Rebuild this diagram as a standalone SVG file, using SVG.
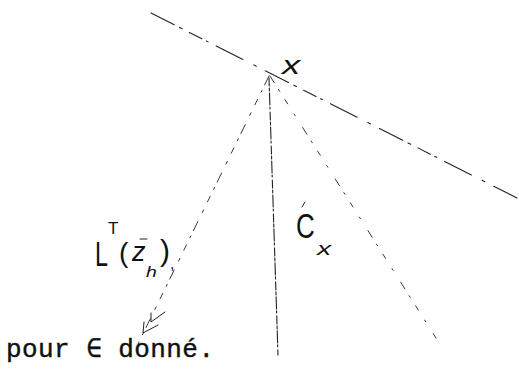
<svg xmlns="http://www.w3.org/2000/svg" width="519" height="375" viewBox="0 0 519 375">
<style>
.ln{fill:none;stroke:#222;stroke-linecap:round}
.hw{font-family:"Liberation Sans","DejaVu Sans",sans-serif;font-weight:normal;fill:#111}
.tt{font-family:"Liberation Mono","DejaVu Sans Mono",monospace;fill:#111;stroke:#111;stroke-width:0.4}
</style>
<rect width="519" height="375" fill="#fff"/>
<g id="lines">
<path class="ln" d="M151,13 L519,199" stroke-width="1.1" stroke-dasharray="26,6,3,8,14,5,2,9,30,12,3,10"/>
<path class="ln" d="M269,76 L138,344" stroke-width="0.9" stroke-dasharray="10,6,2,8,6,9,3,10" stroke="#666"/>
<path class="ln" d="M269,78 L278,355" stroke-width="1.1" stroke-dasharray="8,2,3,2,12,2,2,3"/>
<path class="ln" d="M270,76 L436,338" stroke-width="0.9" stroke-dasharray="8,8,2,10,5,12,2,14" stroke="#666"/>
<path class="ln" d="M151,313 L151,322 L165,312 M144,322 L143,333 L158,325" stroke-width="1"/>
</g>
<g id="label-x"><text class="hw" transform="translate(282,74) scale(1.4,1)" font-size="26" font-style="italic">x</text></g>
<g id="label-L">
<text class="hw" transform="translate(95,266) scale(0.65,1)" font-size="36">L</text>
<text class="hw" x="108" y="234" font-size="17">T</text>
<text class="hw" x="119" y="262" font-size="28">(</text>
<text class="hw" x="132" y="261" font-size="27" font-style="italic">z</text>
<path class="ln" d="M140,239 L147,239" stroke-width="1"/>
<text class="hw" transform="translate(146,277) scale(1.3,1)" font-size="15" font-style="italic">h</text>
<text class="hw" x="160" y="261" font-size="30">)</text>
<text class="hw" x="170" y="269" font-size="16">,</text></g>
<g id="label-C">
<text class="hw" transform="translate(296,238) scale(0.72,1)" font-size="36">C</text>
<path class="ln" d="M302,207 L305,202" stroke-width="1"/>
<text class="hw" transform="translate(317,255) scale(1.5,1)" font-size="19" font-style="italic">x</text></g>
<g id="caption"><text class="tt" x="6" y="357" font-size="26" textLength="208" lengthAdjust="spacing">pour ∈ donné.</text></g>
</svg>
